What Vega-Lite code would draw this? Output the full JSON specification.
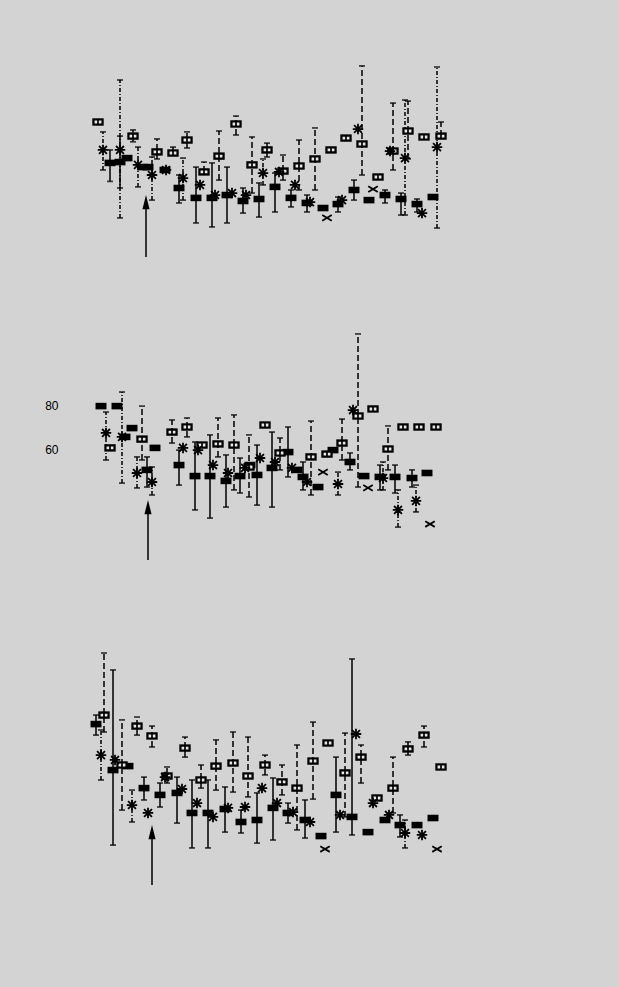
{
"$schema":"https://vega.github.io/schema/vega-lite/v6.json",
"background":"#d3d3d3",
"padding":{"left":30,"top":1,"right":159,"bottom":46},
"spacing":8,
"config":{"view":{"stroke":null}},
"datasets":{"pts":[
{"panel":1,"s":"A","t":12.5,"v":46.4,"hi":52.3,"lo":38},
{"panel":1,"s":"A","t":15,"v":46.8,"hi":58.6,"lo":35.0},
{"panel":1,"s":"A","t":16.75,"v":48.6},
{"panel":1,"s":"A","t":20.75,"v":44.5},
{"panel":1,"s":"A","t":22,"v":44.5},
{"panel":1,"s":"A","t":26.25,"v":43.2},
{"panel":1,"s":"A","t":29.75,"v":35.0,"hi":40.9,"lo":28.2},
{"panel":1,"s":"A","t":34,"v":30.5,"hi":44.5,"lo":19.1},
{"panel":1,"s":"A","t":38,"v":30.5,"hi":46.4,"lo":17.3},
{"panel":1,"s":"A","t":41.75,"v":31.8,"hi":44.5,"lo":19.1},
{"panel":1,"s":"A","t":45.75,"v":29.1,"hi":35.0,"lo":23.6},
{"panel":1,"s":"A","t":49.75,"v":30.0,"hi":37.3,"lo":21.8},
{"panel":1,"s":"A","t":53.75,"v":35.5,"hi":41.8,"lo":24.1},
{"panel":1,"s":"A","t":57.75,"v":30.5,"hi":34.1,"lo":26.4},
{"panel":1,"s":"A","t":61.75,"v":28.2,"hi":31.8,"lo":24.1},
{"panel":1,"s":"A","t":65.75,"v":25.9},
{"panel":1,"s":"A","t":69.5,"v":27.7,"hi":30.9,"lo":24.1},
{"panel":1,"s":"A","t":73.5,"v":34.1,"hi":38.6,"lo":29.5},
{"panel":1,"s":"A","t":77.25,"v":29.5},
{"panel":1,"s":"A","t":81.25,"v":31.8,"hi":34.1,"lo":28.2},
{"panel":1,"s":"A","t":85.25,"v":30.0,"hi":32.7,"lo":22.7},
{"panel":1,"s":"A","t":89.25,"v":27.7,"hi":30.0,"lo":24.1},
{"panel":1,"s":"A","t":93.25,"v":30.9},
{"panel":1,"s":"B","t":9.5,"v":65.0},
{"panel":1,"s":"B","t":18.25,"v":58.6,"hi":61.4,"lo":56.0},
{"panel":1,"s":"B","t":24.25,"v":51.4,"hi":57.3,"lo":48.2},
{"panel":1,"s":"B","t":28.25,"v":50.9,"hi":53.6,"lo":50.9},
{"panel":1,"s":"B","t":31.75,"v":56.8,"hi":60.5,"lo":53.2},
{"panel":1,"s":"B","t":36,"v":42.3,"hi":46.8,"lo":42.3},
{"panel":1,"s":"B","t":39.75,"v":49.5,"hi":60.9,"lo":38.6},
{"panel":1,"s":"B","t":44,"v":64.1,"hi":67.7,"lo":59.1},
{"panel":1,"s":"B","t":48,"v":45.5,"hi":58.2,"lo":32.7},
{"panel":1,"s":"B","t":51.75,"v":52.3,"hi":55.4,"lo":49.1},
{"panel":1,"s":"B","t":55.75,"v":42.7,"hi":50.0,"lo":38.6},
{"panel":1,"s":"B","t":59.75,"v":45.0,"hi":56.8,"lo":34.1},
{"panel":1,"s":"B","t":63.75,"v":48.2,"hi":62.3,"lo":34.1},
{"panel":1,"s":"B","t":67.75,"v":52.3},
{"panel":1,"s":"B","t":71.5,"v":57.7},
{"panel":1,"s":"B","t":75.5,"v":55.0,"hi":90.5,"lo":40.9},
{"panel":1,"s":"B","t":79.5,"v":40.0},
{"panel":1,"s":"B","t":83.25,"v":51.8,"hi":73.6,"lo":43.2},
{"panel":1,"s":"B","t":87,"v":60.9,"hi":74.5,"lo":48.2},
{"panel":1,"s":"B","t":91,"v":58.2},
{"panel":1,"s":"B","t":95.25,"v":58.6,"hi":65.0,"lo":58.6},
{"panel":1,"s":"C","t":10.75,"v":52.3,"hi":60.5,"lo":43.2},
{"panel":1,"s":"C","t":15,"v":52.3,"hi":84.1,"lo":21.4},
{"panel":1,"s":"C","t":19.5,"v":45.5,"hi":53.6,"lo":35.5},
{"panel":1,"s":"C","t":23,"v":40.9,"hi":49.1,"lo":29.5},
{"panel":1,"s":"C","t":26.5,"v":43.2},
{"panel":1,"s":"C","t":30.75,"v":39.5,"hi":48.6,"lo":29.5},
{"panel":1,"s":"C","t":35,"v":36.4},
{"panel":1,"s":"C","t":38.75,"v":31.8},
{"panel":1,"s":"C","t":43,"v":32.7},
{"panel":1,"s":"C","t":46.5,"v":31.8},
{"panel":1,"s":"C","t":50.75,"v":41.8,"hi":48.2,"lo":36.4},
{"panel":1,"s":"C","t":54.75,"v":42.3},
{"panel":1,"s":"C","t":58.75,"v":36.4},
{"panel":1,"s":"C","t":62.5,"v":28.6},
{"panel":1,"s":"C","t":70.5,"v":29.5},
{"panel":1,"s":"C","t":74.5,"v":61.8},
{"panel":1,"s":"C","t":82.5,"v":51.8},
{"panel":1,"s":"C","t":86.25,"v":48.6,"hi":75.0,"lo":22.7},
{"panel":1,"s":"C","t":90.5,"v":23.6},
{"panel":1,"s":"C","t":94.25,"v":53.6,"hi":90.0,"lo":16.8},
{"panel":1,"s":"D","t":66.75,"v":21.4},
{"panel":1,"s":"D","t":78.25,"v":34.5},
{"panel":1,"s":"arrow","t":21.5,"v":28.6,"lo":3.6},
{"panel":2,"s":"A","t":10.25,"v":79.5},
{"panel":2,"s":"A","t":14.25,"v":79.5},
{"panel":2,"s":"A","t":16.25,"v":65.5},
{"panel":2,"s":"A","t":18,"v":69.5},
{"panel":2,"s":"A","t":21.75,"v":50.5,"hi":56.4,"lo":42.7},
{"panel":2,"s":"A","t":23.75,"v":60.5},
{"panel":2,"s":"A","t":29.75,"v":52.7,"hi":59.5,"lo":43.6},
{"panel":2,"s":"A","t":33.75,"v":47.7,"hi":63.2,"lo":32.3},
{"panel":2,"s":"A","t":37.5,"v":47.7,"hi":66.4,"lo":28.6},
{"panel":2,"s":"A","t":41.5,"v":45.5,"hi":57.3,"lo":33.6},
{"panel":2,"s":"A","t":45,"v":47.7,"hi":55.9,"lo":40.0},
{"panel":2,"s":"A","t":47.5,"v":52.7},
{"panel":2,"s":"A","t":49.25,"v":48.2,"hi":61.8,"lo":34.5},
{"panel":2,"s":"A","t":53,"v":51.4,"hi":67.7,"lo":33.6},
{"panel":2,"s":"A","t":57,"v":58.6,"hi":70.0,"lo":47.3},
{"panel":2,"s":"A","t":59.25,"v":50.5},
{"panel":2,"s":"A","t":60.75,"v":47.3,"hi":54.1,"lo":41.4},
{"panel":2,"s":"A","t":64.5,"v":42.7},
{"panel":2,"s":"A","t":68.25,"v":59.5},
{"panel":2,"s":"A","t":72.5,"v":54.1,"hi":58.2,"lo":50.5},
{"panel":2,"s":"A","t":76,"v":47.7},
{"panel":2,"s":"A","t":80,"v":47.3,"hi":52.7,"lo":41.4},
{"panel":2,"s":"A","t":83.75,"v":47.3,"hi":52.7,"lo":40.0},
{"panel":2,"s":"A","t":88,"v":46.8,"hi":50.5,"lo":42.7},
{"panel":2,"s":"A","t":91.75,"v":49.1},
{"panel":2,"s":"B","t":12.5,"v":60.5},
{"panel":2,"s":"B","t":20.5,"v":64.5,"hi":79.5,"lo":55.0},
{"panel":2,"s":"B","t":28,"v":67.7,"hi":73.2,"lo":62.7},
{"panel":2,"s":"B","t":31.75,"v":70.0,"hi":74.1,"lo":65.5},
{"panel":2,"s":"B","t":35.5,"v":61.8},
{"panel":2,"s":"B","t":39.5,"v":62.3,"hi":74.1,"lo":56.4},
{"panel":2,"s":"B","t":43.5,"v":61.8,"hi":75.5,"lo":41.4},
{"panel":2,"s":"B","t":47.25,"v":51.8,"hi":66.4,"lo":38.2},
{"panel":2,"s":"B","t":51.25,"v":70.9},
{"panel":2,"s":"B","t":55,"v":58.2,"hi":65.0,"lo":50.5},
{"panel":2,"s":"B","t":62.75,"v":56.4,"hi":72.7,"lo":39.1},
{"panel":2,"s":"B","t":66.75,"v":57.7},
{"panel":2,"s":"B","t":70.5,"v":62.7,"hi":73.6,"lo":55.0},
{"panel":2,"s":"B","t":74.5,"v":75.0,"hi":112.3,"lo":42.7},
{"panel":2,"s":"B","t":78.25,"v":78.2},
{"panel":2,"s":"B","t":82,"v":60.0,"hi":70.5,"lo":50.5},
{"panel":2,"s":"B","t":85.75,"v":70.0},
{"panel":2,"s":"B","t":89.75,"v":70.0},
{"panel":2,"s":"B","t":94,"v":70.0},
{"panel":2,"s":"C","t":11.5,"v":67.3,"hi":76.8,"lo":55.0},
{"panel":2,"s":"C","t":15.5,"v":65.5,"hi":85.9,"lo":44.5},
{"panel":2,"s":"C","t":19.25,"v":49.1,"hi":56.4,"lo":42.3},
{"panel":2,"s":"C","t":23,"v":45.0,"hi":51.8,"lo":39.1},
{"panel":2,"s":"C","t":30.75,"v":60.5},
{"panel":2,"s":"C","t":34.5,"v":59.5},
{"panel":2,"s":"C","t":38.25,"v":52.7},
{"panel":2,"s":"C","t":42,"v":49.1},
{"panel":2,"s":"C","t":46.25,"v":51.4},
{"panel":2,"s":"C","t":50,"v":55.9},
{"panel":2,"s":"C","t":53.75,"v":54.1},
{"panel":2,"s":"C","t":58,"v":51.4},
{"panel":2,"s":"C","t":61.75,"v":45.0},
{"panel":2,"s":"C","t":69.5,"v":44.1,"hi":49.5,"lo":39.1},
{"panel":2,"s":"C","t":73.25,"v":77.7},
{"panel":2,"s":"C","t":80.75,"v":46.8,"hi":54.1,"lo":41.4},
{"panel":2,"s":"C","t":84.5,"v":32.3,"hi":41.4,"lo":24.5},
{"panel":2,"s":"C","t":89,"v":36.4,"hi":43.6,"lo":31.4},
{"panel":2,"s":"D","t":65.75,"v":49.5},
{"panel":2,"s":"D","t":77,"v":42.3},
{"panel":2,"s":"D","t":92.5,"v":25.9},
{"panel":2,"s":"arrow","t":22,"v":33.6,"lo":9.5},
{"panel":3,"s":"A","t":9,"v":78.6,"hi":82.7,"lo":73.6},
{"panel":3,"s":"A","t":13.25,"v":57.7,"hi":103.2,"lo":23.6},
{"panel":3,"s":"A","t":17,"v":59.5},
{"panel":3,"s":"A","t":21,"v":49.5,"hi":54.5,"lo":44.1},
{"panel":3,"s":"A","t":25,"v":46.4,"hi":51.8,"lo":40.9},
{"panel":3,"s":"A","t":29.25,"v":47.3,"hi":54.5,"lo":33.6},
{"panel":3,"s":"A","t":33,"v":38.2,"hi":53.2,"lo":22.3},
{"panel":3,"s":"A","t":37,"v":38.2,"hi":53.2,"lo":22.3},
{"panel":3,"s":"A","t":41.25,"v":40.0,"hi":50.0,"lo":29.5},
{"panel":3,"s":"A","t":45.25,"v":34.1,"hi":39.5,"lo":29.1},
{"panel":3,"s":"A","t":49.25,"v":35.0,"hi":47.3,"lo":24.5},
{"panel":3,"s":"A","t":53.25,"v":40.5,"hi":54.1,"lo":25.9},
{"panel":3,"s":"A","t":57,"v":38.2,"hi":42.7,"lo":33.6},
{"panel":3,"s":"A","t":61.25,"v":35.0,"hi":44.1,"lo":26.8},
{"panel":3,"s":"A","t":65.25,"v":27.7},
{"panel":3,"s":"A","t":69,"v":46.4,"hi":63.6,"lo":29.5},
{"panel":3,"s":"A","t":73,"v":36.4,"hi":108.2,"lo":28.2},
{"panel":3,"s":"A","t":77,"v":29.5},
{"panel":3,"s":"A","t":81.25,"v":35.0},
{"panel":3,"s":"A","t":85,"v":32.7,"hi":37.3,"lo":27.3},
{"panel":3,"s":"A","t":89.25,"v":32.7},
{"panel":3,"s":"A","t":93.25,"v":35.9},
{"panel":3,"s":"B","t":11,"v":82.7,"hi":110.9,"lo":75.0},
{"panel":3,"s":"B","t":15.5,"v":60.0,"hi":80.5,"lo":39.5},
{"panel":3,"s":"B","t":19.25,"v":77.7,"hi":81.8,"lo":73.6},
{"panel":3,"s":"B","t":23,"v":73.2,"hi":77.7,"lo":68.2},
{"panel":3,"s":"B","t":26.75,"v":55.0,"hi":59.1,"lo":51.8},
{"panel":3,"s":"B","t":31.25,"v":67.7,"hi":72.7,"lo":63.6},
{"panel":3,"s":"B","t":35.25,"v":53.2,"hi":60.0,"lo":49.5},
{"panel":3,"s":"B","t":39,"v":59.5,"hi":71.4,"lo":48.6},
{"panel":3,"s":"B","t":43.25,"v":60.9,"hi":75.0,"lo":47.7},
{"panel":3,"s":"B","t":47,"v":55.0,"hi":72.7,"lo":45.5},
{"panel":3,"s":"B","t":51.25,"v":60.0,"hi":64.5,"lo":55.5},
{"panel":3,"s":"B","t":55.5,"v":52.3,"hi":60.0,"lo":46.4},
{"panel":3,"s":"B","t":59.25,"v":49.5,"hi":69.1,"lo":30.5},
{"panel":3,"s":"B","t":63.25,"v":61.8,"hi":79.5,"lo":44.5},
{"panel":3,"s":"B","t":67,"v":70.0},
{"panel":3,"s":"B","t":71.25,"v":56.4,"hi":74.5,"lo":36.4},
{"panel":3,"s":"B","t":75.25,"v":63.6,"hi":69.1,"lo":51.8},
{"panel":3,"s":"B","t":79.25,"v":45.0},
{"panel":3,"s":"B","t":83.25,"v":49.5,"hi":63.6,"lo":38.2},
{"panel":3,"s":"B","t":87,"v":67.3,"hi":70.5,"lo":64.5},
{"panel":3,"s":"B","t":91,"v":73.6,"hi":77.7,"lo":68.2},
{"panel":3,"s":"B","t":95.25,"v":59.1},
{"panel":3,"s":"C","t":10.25,"v":64.5,"hi":75.9,"lo":53.2},
{"panel":3,"s":"C","t":13.75,"v":62.3},
{"panel":3,"s":"C","t":18,"v":41.8,"hi":48.6,"lo":34.1},
{"panel":3,"s":"C","t":22,"v":38.2},
{"panel":3,"s":"C","t":26.25,"v":54.5},
{"panel":3,"s":"C","t":30.5,"v":49.1},
{"panel":3,"s":"C","t":34.25,"v":42.7},
{"panel":3,"s":"C","t":38.25,"v":36.4},
{"panel":3,"s":"C","t":42,"v":40.5},
{"panel":3,"s":"C","t":46.25,"v":40.9},
{"panel":3,"s":"C","t":50.5,"v":49.5},
{"panel":3,"s":"C","t":54.25,"v":42.7},
{"panel":3,"s":"C","t":58.25,"v":38.6},
{"panel":3,"s":"C","t":62.5,"v":34.1},
{"panel":3,"s":"C","t":70,"v":37.3},
{"panel":3,"s":"C","t":74,"v":74.1},
{"panel":3,"s":"C","t":78.25,"v":42.7},
{"panel":3,"s":"C","t":82.25,"v":37.3},
{"panel":3,"s":"C","t":86.25,"v":29.1,"hi":35.0,"lo":22.3},
{"panel":3,"s":"C","t":90.5,"v":28.2},
{"panel":3,"s":"D","t":66.25,"v":21.8},
{"panel":3,"s":"D","t":94.25,"v":21.8},
{"panel":3,"s":"arrow","t":23,"v":29.5,"lo":5.5}
]},
"vconcat":[
{"width":400,"height":308,"data":{"name":"pts"},"transform":[{"filter":"datum.panel == 1"}],
 "encoding":{"x":{"field":"t","type":"quantitative","scale":{"domain":[0,100],"nice":false,"zero":false},"axis":null},
   "y":{"field":"v","type":"quantitative","scale":{"domain":[-20,120],"nice":false,"zero":false},"axis":null}},
 "layer":[
  {"transform":[{"filter":"datum.hi != null && datum.s != 'arrow'"}],"mark":{"type":"rule","color":"#000","strokeWidth":1.5},
   "encoding":{"y":{"field":"lo","type":"quantitative"},"y2":{"field":"hi"},"strokeDash":{"field":"s","type":"nominal","scale":{"domain":["A","B","C"],"range":[[1,0],[6,3],[4,2,1,2]]},"legend":null}}},
  {"transform":[{"filter":"datum.hi != null && datum.s != 'arrow'"}],"mark":{"type":"tick","orient":"horizontal","color":"#000","size":6,"thickness":1.8},"encoding":{"y":{"field":"hi","type":"quantitative"}}},
  {"transform":[{"filter":"datum.hi != null && datum.s != 'arrow'"}],"mark":{"type":"tick","orient":"horizontal","color":"#000","size":6,"thickness":1.8},"encoding":{"y":{"field":"lo","type":"quantitative"}}},
  {"transform":[{"filter":"datum.s == 'A'"}],"mark":{"type":"point","shape":"M-1,-0.6H1V0.6H-1Z","filled":true,"color":"#000","opacity":1,"size":120}},
  {"transform":[{"filter":"datum.s == 'B'"}],"mark":{"type":"point","shape":"M-1,-0.65H1V0.65H-1Z","filled":true,"color":"#000","opacity":1,"size":130}},
  {"transform":[{"filter":"datum.s == 'B'"}],"mark":{"type":"point","shape":"M-0.6,-0.25H-0.15V0.25H-0.6Z M0.15,-0.25H0.6V0.25H0.15Z","filled":true,"color":"#e8e8e8","opacity":1,"size":130}},
  {"transform":[{"filter":"datum.s == 'C'"}],"mark":{"type":"point","shape":"M-1,0H1M0,-1V1M-0.75,-0.75L0.75,0.75M-0.75,0.75L0.75,-0.75","filled":false,"color":"#000","strokeWidth":1.8,"opacity":1,"size":110}},
  {"transform":[{"filter":"datum.s == 'D'"}],"mark":{"type":"point","shape":"M-1,-0.6L1,0.6M-1,0.6L1,-0.6","filled":false,"color":"#000","strokeWidth":1.8,"opacity":1,"size":90}},
  {"transform":[{"filter":"datum.s == 'arrow'"}],"mark":{"type":"rule","color":"#000","strokeWidth":1.5},"encoding":{"y2":{"field":"lo"}}},
  {"transform":[{"filter":"datum.s == 'arrow'"}],"mark":{"type":"point","shape":"M0,-1L0.5,1L-0.5,1Z","filled":true,"color":"#000","opacity":1,"size":200}}
 ]},
{"width":400,"height":308,"data":{"name":"pts"},"transform":[{"filter":"datum.panel == 2"}],
 "encoding":{"x":{"field":"t","type":"quantitative","scale":{"domain":[0,100],"nice":false,"zero":false},"axis":null},
   "y":{"field":"v","type":"quantitative","scale":{"domain":[-20,120],"nice":false,"zero":false},
     "axis":{"values":[60,80],"domain":false,"ticks":false,"grid":false,"title":null,"labelFont":"Liberation Sans","labelFontSize":12,"labelColor":"#000","labelPadding":2,"minExtent":30,"maxExtent":30}}},
 "layer":[
  {"transform":[{"filter":"datum.hi != null && datum.s != 'arrow'"}],"mark":{"type":"rule","color":"#000","strokeWidth":1.5},
   "encoding":{"y":{"field":"lo","type":"quantitative"},"y2":{"field":"hi"},"strokeDash":{"field":"s","type":"nominal","scale":{"domain":["A","B","C"],"range":[[1,0],[6,3],[4,2,1,2]]},"legend":null}}},
  {"transform":[{"filter":"datum.hi != null && datum.s != 'arrow'"}],"mark":{"type":"tick","orient":"horizontal","color":"#000","size":6,"thickness":1.8},"encoding":{"y":{"field":"hi","type":"quantitative"}}},
  {"transform":[{"filter":"datum.hi != null && datum.s != 'arrow'"}],"mark":{"type":"tick","orient":"horizontal","color":"#000","size":6,"thickness":1.8},"encoding":{"y":{"field":"lo","type":"quantitative"}}},
  {"transform":[{"filter":"datum.s == 'A'"}],"mark":{"type":"point","shape":"M-1,-0.6H1V0.6H-1Z","filled":true,"color":"#000","opacity":1,"size":120}},
  {"transform":[{"filter":"datum.s == 'B'"}],"mark":{"type":"point","shape":"M-1,-0.65H1V0.65H-1Z","filled":true,"color":"#000","opacity":1,"size":130}},
  {"transform":[{"filter":"datum.s == 'B'"}],"mark":{"type":"point","shape":"M-0.6,-0.25H-0.15V0.25H-0.6Z M0.15,-0.25H0.6V0.25H0.15Z","filled":true,"color":"#e8e8e8","opacity":1,"size":130}},
  {"transform":[{"filter":"datum.s == 'C'"}],"mark":{"type":"point","shape":"M-1,0H1M0,-1V1M-0.75,-0.75L0.75,0.75M-0.75,0.75L0.75,-0.75","filled":false,"color":"#000","strokeWidth":1.8,"opacity":1,"size":110}},
  {"transform":[{"filter":"datum.s == 'D'"}],"mark":{"type":"point","shape":"M-1,-0.6L1,0.6M-1,0.6L1,-0.6","filled":false,"color":"#000","strokeWidth":1.8,"opacity":1,"size":90}},
  {"transform":[{"filter":"datum.s == 'arrow'"}],"mark":{"type":"rule","color":"#000","strokeWidth":1.5},"encoding":{"y2":{"field":"lo"}}},
  {"transform":[{"filter":"datum.s == 'arrow'"}],"mark":{"type":"point","shape":"M0,-1L0.5,1L-0.5,1Z","filled":true,"color":"#000","opacity":1,"size":200}}
 ]},
{"width":400,"height":308,"data":{"name":"pts"},"transform":[{"filter":"datum.panel == 3"}],
 "encoding":{"x":{"field":"t","type":"quantitative","scale":{"domain":[0,100],"nice":false,"zero":false},"axis":null},
   "y":{"field":"v","type":"quantitative","scale":{"domain":[-20,120],"nice":false,"zero":false},"axis":null}},
 "layer":[
  {"transform":[{"filter":"datum.hi != null && datum.s != 'arrow'"}],"mark":{"type":"rule","color":"#000","strokeWidth":1.5},
   "encoding":{"y":{"field":"lo","type":"quantitative"},"y2":{"field":"hi"},"strokeDash":{"field":"s","type":"nominal","scale":{"domain":["A","B","C"],"range":[[1,0],[6,3],[4,2,1,2]]},"legend":null}}},
  {"transform":[{"filter":"datum.hi != null && datum.s != 'arrow'"}],"mark":{"type":"tick","orient":"horizontal","color":"#000","size":6,"thickness":1.8},"encoding":{"y":{"field":"hi","type":"quantitative"}}},
  {"transform":[{"filter":"datum.hi != null && datum.s != 'arrow'"}],"mark":{"type":"tick","orient":"horizontal","color":"#000","size":6,"thickness":1.8},"encoding":{"y":{"field":"lo","type":"quantitative"}}},
  {"transform":[{"filter":"datum.s == 'A'"}],"mark":{"type":"point","shape":"M-1,-0.6H1V0.6H-1Z","filled":true,"color":"#000","opacity":1,"size":120}},
  {"transform":[{"filter":"datum.s == 'B'"}],"mark":{"type":"point","shape":"M-1,-0.65H1V0.65H-1Z","filled":true,"color":"#000","opacity":1,"size":130}},
  {"transform":[{"filter":"datum.s == 'B'"}],"mark":{"type":"point","shape":"M-0.6,-0.25H-0.15V0.25H-0.6Z M0.15,-0.25H0.6V0.25H0.15Z","filled":true,"color":"#e8e8e8","opacity":1,"size":130}},
  {"transform":[{"filter":"datum.s == 'C'"}],"mark":{"type":"point","shape":"M-1,0H1M0,-1V1M-0.75,-0.75L0.75,0.75M-0.75,0.75L0.75,-0.75","filled":false,"color":"#000","strokeWidth":1.8,"opacity":1,"size":110}},
  {"transform":[{"filter":"datum.s == 'D'"}],"mark":{"type":"point","shape":"M-1,-0.6L1,0.6M-1,0.6L1,-0.6","filled":false,"color":"#000","strokeWidth":1.8,"opacity":1,"size":90}},
  {"transform":[{"filter":"datum.s == 'arrow'"}],"mark":{"type":"rule","color":"#000","strokeWidth":1.5},"encoding":{"y2":{"field":"lo"}}},
  {"transform":[{"filter":"datum.s == 'arrow'"}],"mark":{"type":"point","shape":"M0,-1L0.5,1L-0.5,1Z","filled":true,"color":"#000","opacity":1,"size":200}}
 ]}
]
}
